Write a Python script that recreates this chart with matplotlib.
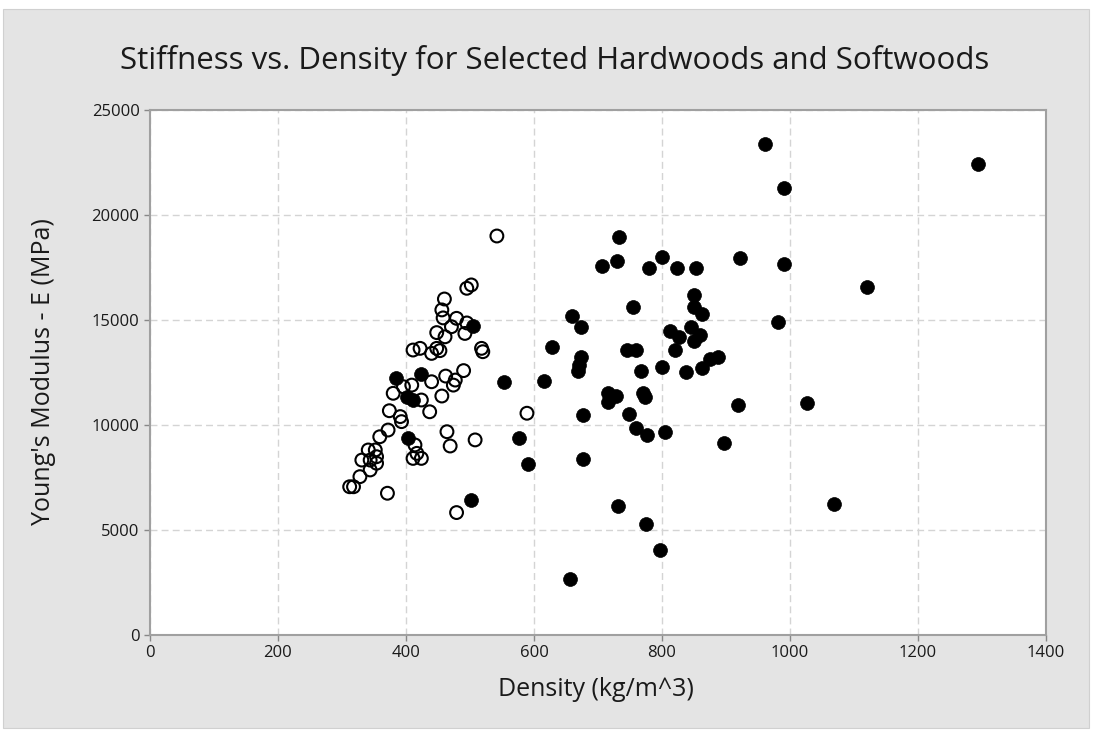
import matplotlib
matplotlib.use("Agg")
import matplotlib.pyplot as plt
from matplotlib.patches import Rectangle

plt.rcParams['font.family'] = ['Open Sans', 'DejaVu Sans']

# Hardwoods (filled markers): density (kg/m^3), Young's modulus (MPa)
hard_density = [385, 424, 401, 411, 403, 505, 502, 553, 616, 628, 576, 591,
                733, 707, 729, 779, 800, 823, 853, 922,
                755, 850, 850, 863, 659, 674,
                812, 827, 846, 859, 850,
                745, 760, 820, 674, 671, 669, 767, 800, 838, 862, 875, 888,
                716, 728, 715, 771, 773, 918, 677, 749, 760, 776, 805, 897,
                677, 731, 775, 797, 656,
                961, 991, 991, 1121, 981, 1026, 1068, 1294]
hard_modulus = [12220, 12450, 11350, 11190, 9400, 14710, 6430, 12030, 12100, 13730, 9370, 8150,
                18940, 17590, 17830, 17460, 18010, 17460, 17460, 17940,
                15630, 16190, 15630, 15290, 15210, 14650,
                14490, 14170, 14680, 14290, 14010,
                13570, 13570, 13570, 13220, 12860, 12590, 12590, 12750, 12540, 12700, 13130, 13220,
                11510, 11380, 11110, 11510, 11350, 10940, 10480, 10510, 9840, 9520, 9680, 9130,
                8370, 6140, 5290, 4050, 2670,
                23380, 21270, 17650, 16590, 14920, 11030, 6220, 22450]

# Softwoods (open markers)
soft_density = [542, 495, 502, 460, 456, 458, 479, 495, 471, 448, 461, 492,
                411, 422, 440, 448, 453, 518, 520, 490, 462, 477, 474, 440,
                456, 380, 396, 409, 424, 437, 374, 391, 393, 372, 359,
                341, 352, 354, 344, 331, 354, 344, 328, 312, 318, 371,
                464, 469, 508, 414, 417, 424, 411, 589, 479]
soft_modulus = [19000, 16510, 16670, 16000, 15480, 15100, 15080, 14860, 14680, 14400, 14200, 14360,
                13570, 13650, 13410, 13650, 13540, 13650, 13490, 12590, 12330, 12140, 11900, 12060,
                11380, 11510, 11820, 11900, 11190, 10630, 10680, 10400, 10160, 9760, 9440,
                8810, 8810, 8490, 8330, 8330, 8180, 7860, 7540, 7060, 7060, 6750,
                9680, 9000, 9290, 9050, 8650, 8410, 8410, 10560, 5830]

x_ticks = [0, 200, 400, 600, 800, 1000, 1200, 1400]
y_ticks = [0, 5000, 10000, 15000, 20000, 25000]

W, H = 1093, 731
fig = plt.figure(figsize=(W / 100, H / 100), dpi=100)
fig.patch.set_facecolor('white')
bg = Rectangle((3 / W, 3 / H), (1089 - 3) / W, (722 - 3) / H,
               transform=fig.transFigure, facecolor='#e4e4e4',
               edgecolor='#d0d0d0', linewidth=0.8, zorder=-10)
fig.add_artist(bg)

ax = fig.add_axes([150 / W, 1 - 635 / H, (1046 - 150) / W, (635 - 110) / H])
ax.set_zorder(1)
ax.set_facecolor('white')

ax.scatter(soft_density, soft_modulus, s=85, facecolors='none',
           edgecolors='black', linewidths=1.5, zorder=3)
ax.scatter(hard_density, hard_modulus, s=100, c='black',
           edgecolors='black', linewidths=0.5, zorder=4)

ax.set_xlim(0, 1400)
ax.set_ylim(0, 25000)
ax.set_xticks(x_ticks)
ax.set_yticks(y_ticks)
ax.grid(True, color='#d4d4d4', linestyle=(0, (5, 3)), linewidth=1.0)
ax.set_axisbelow(True)

for s in ax.spines.values():
    s.set_color('#a0a0a0')
    s.set_linewidth(1.5)

ax.tick_params(axis='both', labelsize=12, colors='#1a1a1a', length=4,
               width=1, direction='out')
ax.tick_params(axis='both', color='#888888')

ax.set_xlabel('Density (kg/m^3)', fontsize=18, color='#1a1a1a')
ax.set_ylabel("Young's Modulus - E (MPa)", fontsize=18, color='#1a1a1a')
ax.xaxis.set_label_coords((596 - 150) / 896, (635 - 690) / 525)
ax.yaxis.set_label_coords((44 - 150) / 896, (635 - 372) / 525)
ax.xaxis.label.set_va('center')
ax.yaxis.label.set_va('center')
fig.text(0.5 * (115 + 995) / W, 1 - 60 / H,
         'Stiffness vs. Density for Selected Hardwoods and Softwoods',
         ha='center', va='center', fontsize=22.5, color='#1a1a1a')

fig.savefig('out.png', dpi=100)
